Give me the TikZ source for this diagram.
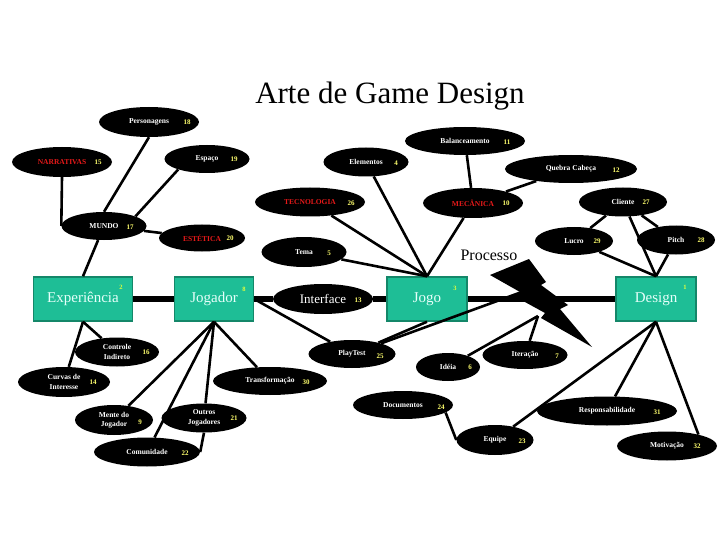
\documentclass[tikz,border=0pt]{standalone}
\usepackage{fontspec}
\setmainfont{Liberation Serif}
\usetikzlibrary{shapes.geometric,positioning}
\definecolor{boxteal}{RGB}{30,190,150}
\definecolor{boxedge}{RGB}{20,135,105}
\definecolor{numyellow}{RGB}{255,255,110}
\definecolor{boxnum}{RGB}{225,255,60}
\definecolor{capred}{RGB}{230,25,25}
\definecolor{boxtext}{RGB}{230,255,250}

\begin{document}
\begin{tikzpicture}[x=1pt, y=-1pt,
		ell/.style={ellipse, fill=black, inner sep=0pt, text=white, align=center, font=\fontsize{7.5}{9.5}\selectfont\bfseries},
		box/.style={rectangle, fill=boxteal, draw=boxedge, line width=1.5pt, inner sep=0pt, text=boxtext, font=\fontsize{15}{17}\selectfont},
		num/.style={inner sep=0pt, text=numyellow, font=\fontsize{7}{8}\selectfont\bfseries},
		tinynum/.style={inner sep=0pt, text=boxnum, font=\fontsize{6.5}{7}\selectfont\bfseries},
		link/.style={line width=2.6pt},
		spine/.style={line width=6.5pt}]
		%%%%% START %%%%%
		\useasboundingbox[fill=white] (0,0) rectangle (720,540);
		
		\node[font=\fontsize{31}{36}\selectfont] (titulo) at (390,96) {Arte de Game Design};
		
		% caixas
		\node[box, minimum width=99pt, minimum height=44pt] (experiencia) at (83,299) {Experiência};
		\node[tinynum] (n2) at (121,287) {2};
		\node[box, minimum width=79pt, minimum height=44pt] (jogador) at (214,299) {Jogador};
		\node[tinynum] (n8) at (244,289) {8};
		\node[box, minimum width=80pt, minimum height=44pt] (jogo) at (427,299) {Jogo};
		\node[tinynum] (n3) at (455,288) {3};
		\node[box, minimum width=80pt, minimum height=44pt] (design) at (656,299) {Design};
		\node[tinynum] (n1) at (685,287) {1};
		
		% elipses de cima
		\node[ell, minimum width=100pt, minimum height=30pt] (personagens) at (149,122) {Personagens};
		\node[num] (n18) at (187,122) {18};
		\node[ell, minimum width=100pt, minimum height=30pt, text=capred] (narrativas) at (62,162) {NARRATIVAS};
		\node[num] (n15) at (98,162) {15};
		\node[ell, minimum width=85pt, minimum height=28pt] (espaco) at (207,159) {Espaço};
		\node[num] (n19) at (234,159) {19};
		\node[ell, minimum width=85pt, minimum height=28pt] (mundo) at (104,226) {MUNDO};
		\node[num] (n17) at (130,227) {17};
		\node[ell, minimum width=86pt, minimum height=27pt, text=capred] (estetica) at (202,238) {ESTÉTICA};
		\node[num] (n20) at (230,238) {20};
		
		\node[ell, minimum width=85pt, minimum height=29pt] (elementos) at (366,162) {Elementos};
		\node[num] (n4) at (396,163) {4};
		\node[ell, minimum width=120pt, minimum height=28pt] (balanceamento) at (465,141) {Balanceamento};
		\node[num] (n11) at (507,142) {11};
		\node[ell, minimum width=110pt, minimum height=29pt, text=capred] (tecnologia) at (310,202) {TECNOLOGIA};
		\node[num] (n26) at (351,203) {26};
		\node[ell, minimum width=100pt, minimum height=30pt, text=capred] (mecanica) at (473,203) {MECÂNICA};
		\node[num] (n10) at (506,203) {10};
		\node[ell, minimum width=85pt, minimum height=30pt] (tema) at (304,252) {Tema};
		\node[num] (n5) at (329,253) {5};
		
		\node[ell, minimum width=132pt, minimum height=28pt] (quebra) at (571,169) {Quebra Cabeça};
		\node[num] (n12) at (616,170) {12};
		\node[ell, minimum width=88pt, minimum height=29pt] (cliente) at (623,202) {Cliente};
		\node[num] (n27) at (646,202) {27};
		\node[ell, minimum width=78pt, minimum height=28pt] (lucro) at (574,241) {Lucro};
		\node[num] (n29) at (597,241) {29};
		\node[ell, minimum width=78pt, minimum height=29pt] (pitch) at (676,240) {Pitch};
		\node[num] (n28) at (701,240) {28};
		
		% elipses de baixo
		\node[ell, minimum width=84pt, minimum height=29pt] (controle) at (117,352) {Controle\\Indireto};
		\node[num] (n16) at (146,352) {16};
		\node[ell, minimum width=92pt, minimum height=30pt] (curvas) at (64,382) {Curvas de\\Interesse};
		\node[num] (n14) at (93,382) {14};
		\node[ell, minimum width=100pt, minimum height=30pt, font=\fontsize{13}{15}\selectfont] (interface) at (323,299) {Interface};
		\node[num] (n13) at (358,300) {13};
		\node[ell, minimum width=87pt, minimum height=28pt] (playtest) at (352,354) {PlayTest};
		\node[num] (n25) at (380,356) {25};
		\node[ell, minimum width=64pt, minimum height=28pt] (ideia) at (448,367) {Idéia};
		\node[num] (n6) at (470,367) {6};
		\node[ell, minimum width=85pt, minimum height=28pt] (iteracao) at (525,355) {Iteração};
		\node[num] (n7) at (557,356) {7};
		\node[ell, minimum width=100pt, minimum height=28pt] (documentos) at (403,405) {Documentos};
		\node[num] (n24) at (441,407) {24};
		\node[ell, minimum width=114pt, minimum height=28pt] (transformacao) at (270,381) {Transformação};
		\node[num] (n30) at (306,382) {30};
		\node[ell, minimum width=78pt, minimum height=30pt] (mente) at (114,420) {Mente do\\Jogador};
		\node[num] (n9) at (140,422) {9};
		\node[ell, minimum width=85pt, minimum height=29pt] (outros) at (204,418) {Outros\\Jogadores};
		\node[num] (n21) at (234,418) {21};
		\node[ell, minimum width=106pt, minimum height=29pt] (comunidade) at (147,452) {Comunidade};
		\node[num] (n22) at (185,453) {22};
		\node[ell, minimum width=77pt, minimum height=30pt] (equipe) at (495,440) {Equipe};
		\node[num] (n23) at (522,441) {23};
		\node[ell, minimum width=140pt, minimum height=29pt] (responsabilidade) at (607,411) {Responsabilidade};
		\node[num] (n31) at (657,412) {31};
		\node[ell, minimum width=100pt, minimum height=29pt] (motivacao) at (667,446) {Motivação};
		\node[num] (n32) at (697,446) {32};
		
		% processo
		\node[font=\fontsize{16}{18}\selectfont] (processo) at (489,255) {Processo};
		\fill (490,275) -- (529,259) -- (546,282) -- (541,285) -- (568,305) -- (560,309) -- (592,347) -- (541,318) -- (545,313) -- (514,296) -- (520,292) -- cycle;
		\coordinate (proc-a) at (530,289);
		\coordinate (proc-b) at (538,316);
		
		% eixo
		\draw[spine] (experiencia) -- (jogador);
		\draw[spine] (jogador) -- (interface);
		\draw[spine] (interface) -- (jogo);
		\draw[spine] (jogo) -- (design);
		
		% ligacoes
		\draw[link] (narrativas.south) -- (mundo.west);
		\draw[link] (personagens.south) -- (mundo.north);
		\draw[link] (espaco.200) -- (mundo.17);
		\draw[link] (mundo) -- (estetica);
		\draw[link] (mundo) -- (experiencia.north);
		\draw[link] (experiencia.south) -- (controle);
		\draw[link] (experiencia.south) -- (curvas);
		
		\draw[link] (jogador.south) -- (mente);
		\draw[link] (jogador.south) -- (comunidade);
		\draw[link] (jogador.south) -- (outros);
		\draw[link] (jogador.south) -- (transformacao);
		\draw[link] (outros.south) -- (comunidade.east);
		\draw[link] (jogador.east) -- (playtest);
		
		\draw[link] (tema) -- (jogo.north);
		\draw[link] (tecnologia) -- (jogo.north);
		\draw[link] (elementos) -- (jogo.north);
		\draw[link] (mecanica) -- (jogo.north);
		\draw[link] (balanceamento) -- (mecanica);
		\draw[link] (quebra) -- (mecanica);
		
		\draw[link] (playtest) -- (jogo.south);
		\draw[link] (playtest) -- (proc-a);
		\draw[link] (ideia) -- (proc-b);
		\draw[link] (iteracao) -- (proc-b);
		\draw[link] (documentos.-10) -- (equipe.west);
		
		\draw[link] (cliente) -- (lucro);
		\draw[link] (cliente) -- (pitch);
		\draw[link] (cliente) -- (design.north);
		\draw[link] (lucro) -- (design.north);
		\draw[link] (pitch) -- (design.north);
		\draw[link] (design.south) -- (equipe);
		\draw[link] (design.south) -- (responsabilidade);
		\draw[link] (design.south) -- (motivacao.20);
		%%%%% END %%%%%
	\end{tikzpicture}
\end{document}
